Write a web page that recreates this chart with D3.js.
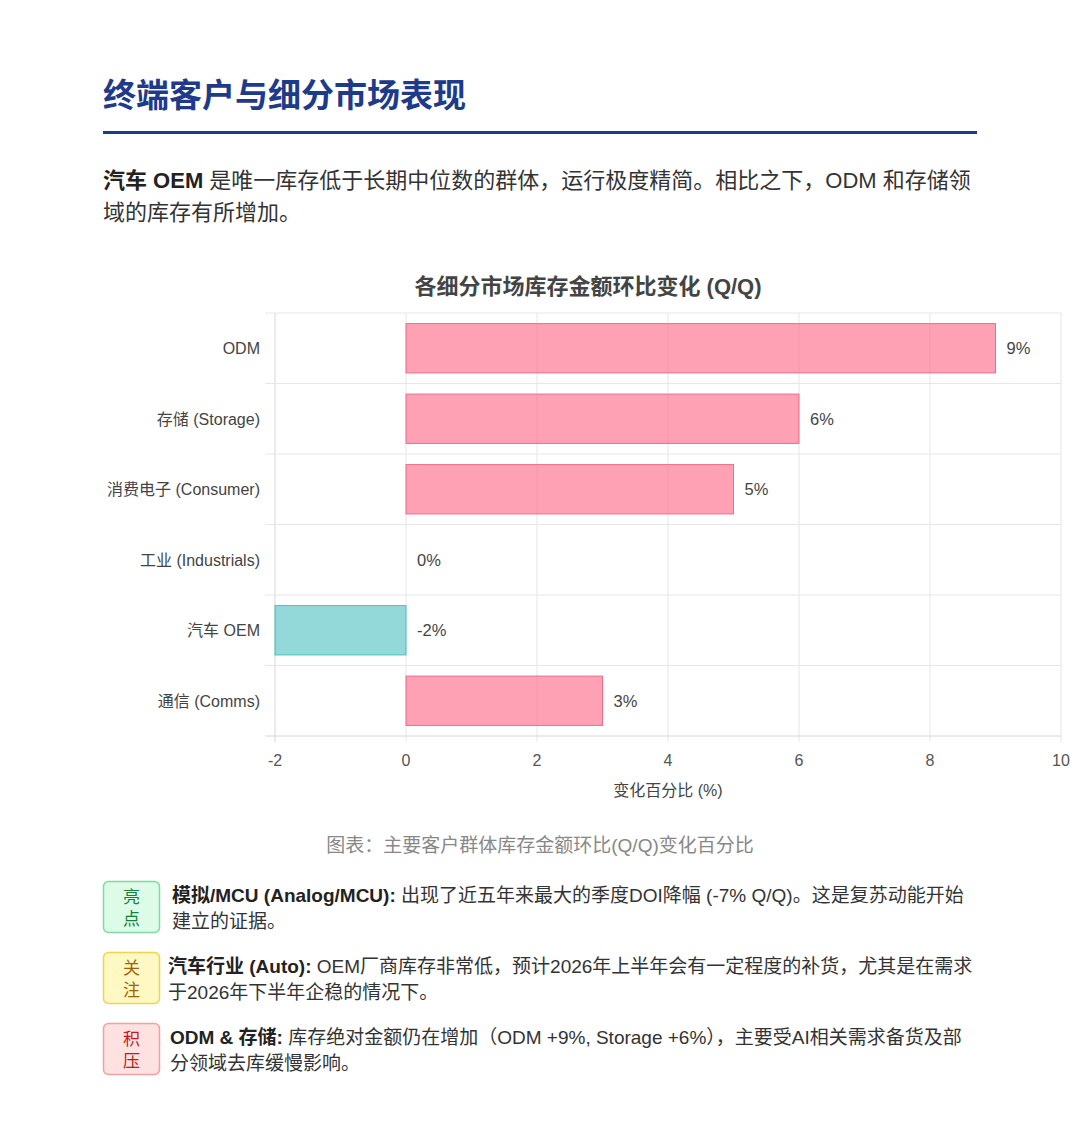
<!DOCTYPE html>
<html>
<head>
<meta charset="utf-8">
<script src="https://cdn.jsdelivr.net/npm/d3@7"></script>
<style>
  body { margin: 0; background: #fff; }
  svg text { font-family: "Liberation Sans", "Noto Sans CJK SC", sans-serif; }
</style>
</head>
<body>
<div id="page"></div>
<script>
// data
const categories = ["ODM", "存储 (Storage)", "消费电子 (Consumer)", "工业 (Industrials)", "汽车 OEM", "通信 (Comms)"];
const changes = [9, 6, 5, 0, -2, 3];
const xTicks = [-2, 0, 2, 4, 6, 8, 10];

const introLines = [
    [{t: "汽车 OEM", b: true}, {t: " 是唯一库存低于长期中位数的群体，运行极度精简。相比之下，ODM 和存储领"}],
    [{t: "域的库存有所增加。"}]
];

const notes = [
    {badge: ["亮", "点"], kind: "good", lines: [
        [{t: "模拟/MCU (Analog/MCU):", b: true}, {t: " 出现了近五年来最大的季度DOI降幅 (-7% Q/Q)。这是复苏动能开始"}],
        [{t: "建立的证据。"}]]},
    {badge: ["关", "注"], kind: "watch", lines: [
        [{t: "汽车行业 (Auto):", b: true}, {t: " OEM厂商库存非常低，预计2026年上半年会有一定程度的补货，尤其是在需求"}],
        [{t: "于2026年下半年企稳的情况下。"}]]},
    {badge: ["积", "压"], kind: "bad", lines: [
        [{t: "ODM & 存储:", b: true}, {t: " 库存绝对金额仍在增加（ODM +9%, Storage +6%），主要受AI相关需求备货及部"}],
        [{t: "分领域去库缓慢影响。"}]]}
];

const badgeStyle = {
    good:  {bg: "#dcfce7", border: "#7ddc9e", text: "#16803d"},
    watch: {bg: "#fef9c3", border: "#f3d34a", text: "#a16207"},
    bad:   {bg: "#fee2e2", border: "#f3a0a0", text: "#b91c1c"}
};

const width = 1080, height = 1146;
const svg = d3.select("#page").append("svg")
    .attr("width", width)
    .attr("height", height);

// header
svg.append("text")
    .attr("x", 103).attr("y", 107)
    .attr("font-size", 33).attr("font-weight", "bold")
    .attr("fill", "#1e3a8a")
    .text("终端客户与细分市场表现");

svg.append("rect")
    .attr("x", 103).attr("y", 131)
    .attr("width", 874).attr("height", 3)
    .attr("fill", "#1e3a8a");

function richLine(g, x, y, parts, size, color, boldColor) {
    const t = g.append("text")
        .attr("x", x).attr("y", y)
        .attr("font-size", size)
        .attr("fill", color);
    parts.forEach(p => {
        t.append("tspan")
            .attr("font-weight", p.b ? "bold" : null)
            .attr("fill", p.b ? boldColor : null)
            .text(p.t);
    });
}

introLines.forEach((line, i) => richLine(svg, 103, 188 + i * 32, line, 22, "#333", "#222"));

// chart
const margin = {top: 313, left: 275, right: 1061, bottom: 736};

const xScale = d3.scaleLinear()
    .domain([-2, 10])
    .range([margin.left, margin.right]);

const yScale = d3.scaleBand()
    .domain(categories)
    .range([margin.top, margin.bottom]);

const barH = yScale.bandwidth() * 0.7;

svg.append("text")
    .attr("x", 588).attr("y", 294)
    .attr("text-anchor", "middle")
    .attr("font-size", 22).attr("font-weight", "bold")
    .attr("fill", "#444")
    .text("各细分市场库存金额环比变化 (Q/Q)");

// grid
const grid = svg.append("g");
grid.selectAll("line.v")
    .data(xTicks)
    .enter()
    .append("line")
        .attr("x1", d => xScale(d)).attr("x2", d => xScale(d))
        .attr("y1", margin.top).attr("y2", margin.bottom + 6)
        .attr("stroke", d => d === -2 ? "#d6d6d6" : "#e6e6e6");

const rowEdges = categories.map(c => yScale(c)).concat([margin.bottom]);
grid.selectAll("line.h")
    .data(rowEdges)
    .enter()
    .append("line")
        .attr("x1", margin.left - 10).attr("x2", margin.right)
        .attr("y1", d => d).attr("y2", d => d)
        .attr("stroke", (d, i) => i === rowEdges.length - 1 ? "#d6d6d6" : "#e6e6e6");

// bars
svg.selectAll("rect.bar")
    .data(categories)
    .enter()
    .append("rect")
        .attr("class", "bar")
        .attr("x", (d, i) => xScale(Math.min(0, changes[i])))
        .attr("y", d => yScale(d) + (yScale.bandwidth() - barH) / 2)
        .attr("width", (d, i) => Math.abs(xScale(changes[i]) - xScale(0)))
        .attr("height", barH)
        .attr("fill", (d, i) => changes[i] < 0 ? "rgba(75,192,192,0.6)" : "rgba(255,99,132,0.6)")
        .attr("stroke", (d, i) => changes[i] < 0 ? "rgb(75,192,192)" : "rgb(240,110,140)")
        .attr("stroke-width", 1);

// value labels
svg.selectAll("text.val")
    .data(categories)
    .enter()
    .append("text")
        .attr("x", (d, i) => xScale(Math.max(0, changes[i])) + 11)
        .attr("y", d => yScale(d) + yScale.bandwidth() / 2)
        .attr("dy", "0.36em")
        .attr("font-size", 16.5)
        .attr("fill", "#444")
        .text((d, i) => changes[i] + "%");

// axes labels
svg.selectAll("text.ylab")
    .data(categories)
    .enter()
    .append("text")
        .attr("x", margin.left - 15)
        .attr("y", d => yScale(d) + yScale.bandwidth() / 2)
        .attr("dy", "0.36em")
        .attr("text-anchor", "end")
        .attr("font-size", 16)
        .attr("fill", "#444")
        .text(d => d);

svg.selectAll("text.xlab")
    .data(xTicks)
    .enter()
    .append("text")
        .attr("x", d => xScale(d))
        .attr("y", 766)
        .attr("text-anchor", "middle")
        .attr("font-size", 16)
        .attr("fill", "#555")
        .text(d => d);

svg.append("text")
    .attr("x", (margin.left + margin.right) / 2).attr("y", 796)
    .attr("text-anchor", "middle")
    .attr("font-size", 16)
    .attr("fill", "#444")
    .text("变化百分比 (%)");

svg.append("text")
    .attr("x", 540).attr("y", 852)
    .attr("text-anchor", "middle")
    .attr("font-size", 19)
    .attr("fill", "#888")
    .text("图表：主要客户群体库存金额环比(Q/Q)变化百分比");

// notes
const textX = [172, 168, 170];
notes.forEach((n, i) => {
    const top = 881 + i * 71;
    const st = badgeStyle[n.kind];
    const g = svg.append("g");
    g.append("rect")
        .attr("x", 103.5).attr("y", top + 0.5)
        .attr("width", 56).attr("height", 51)
        .attr("rx", 5)
        .attr("fill", st.bg)
        .attr("stroke", st.border)
        .attr("stroke-width", 1.5);
    n.badge.forEach((ch, j) => {
        g.append("text")
            .attr("x", 131.5).attr("y", top + 22 + j * 22)
            .attr("text-anchor", "middle")
            .attr("font-size", 17)
            .attr("fill", st.text)
            .text(ch);
    });
    n.lines.forEach((line, j) => richLine(g, textX[i], top + 21 + j * 26, line, 19, "#333", "#222"));
});
</script>
</body>
</html>
